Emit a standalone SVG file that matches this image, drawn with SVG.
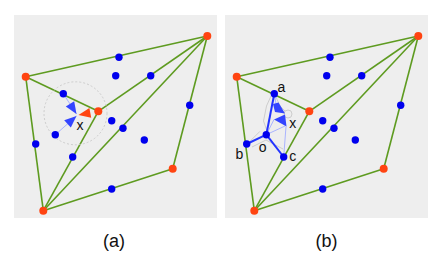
<svg xmlns="http://www.w3.org/2000/svg" width="440" height="269" viewBox="0 0 440 269">
<style>
.bg{fill:#eeeeee}
.e{stroke:#5e9b20;stroke-width:1.6;fill:none}
.bl{fill:#0000ee}
.or{fill:#ff4411}
.lb{stroke:#aab4ff;stroke-width:1;fill:none}
.gr{stroke:#c4c4c4;stroke-width:0.8;fill:none}
.vb{stroke:#2233ff;stroke-width:2;fill:none}
.ar{fill:#3344ff}
.t{font-family:"Liberation Sans",Arial,sans-serif;fill:#111}
</style>
<rect class="bg" x="14" y="15" width="203" height="203"/>
<rect class="bg" x="225" y="15" width="203" height="203"/>
<g id="connectors">
  <g id="edges-a">
    <line class="e" x1="25.7" y1="76.7" x2="207.3" y2="36"/>
    <line class="e" x1="207.3" y1="36" x2="98.3" y2="111.3"/>
    <line class="e" x1="207.3" y1="36" x2="43.3" y2="210.7"/>
    <line class="e" x1="207.3" y1="36" x2="172.7" y2="168.7"/>
    <line class="e" x1="172.7" y1="168.7" x2="43.3" y2="210.7"/>
    <line class="e" x1="25.7" y1="76.7" x2="43.3" y2="210.7"/>
    <line class="e" x1="25.7" y1="76.7" x2="98.3" y2="111.3"/>
    <line class="e" x1="98.3" y1="111.3" x2="43.3" y2="210.7"/>
  </g>
  <g id="edges-b" transform="translate(211,0)">
    <line class="e" x1="25.7" y1="76.7" x2="207.3" y2="36"/>
    <line class="e" x1="207.3" y1="36" x2="98.3" y2="111.3"/>
    <line class="e" x1="207.3" y1="36" x2="43.3" y2="210.7"/>
    <line class="e" x1="207.3" y1="36" x2="172.7" y2="168.7"/>
    <line class="e" x1="172.7" y1="168.7" x2="43.3" y2="210.7"/>
    <line class="e" x1="25.7" y1="76.7" x2="43.3" y2="210.7"/>
    <line class="e" x1="25.7" y1="76.7" x2="98.3" y2="111.3"/>
    <line class="e" x1="98.3" y1="111.3" x2="43.3" y2="210.7"/>
  </g>
  <g id="query-a">
    <circle cx="75.5" cy="113.3" r="31.5" fill="none" stroke="#c8c8c8" stroke-width="0.9" stroke-dasharray="2,2"/>
    <line class="lb" x1="63.3" y1="93.7" x2="76.5" y2="114"/>
    <line class="lb" x1="55.3" y1="134.7" x2="76.5" y2="116"/>
    <polygon class="ar" points="76.5,114 65.8,106.6 74.2,101.2"/>
    <polygon class="ar" points="76.5,116 64.2,120.2 70.8,127.6"/>
    <polygon class="or" points="78.5,115 89.4,107.9 91.2,117.7"/>
  </g>
  <g id="query-b">
    <polyline class="gr" points="271,96 266.5,106 263.5,121 267,131"/>
    <polyline class="gr" points="276,97 280,106 285,111"/>
    <line class="gr" x1="250" y1="141.3" x2="260" y2="131.3"/>
    <polyline class="gr" points="252,147 266,140 283,149"/>
    <circle cx="288" cy="114" r="4" class="gr"/>
    <line class="lb" x1="274.3" y1="93.7" x2="276" y2="104"/>
    <line class="lb" x1="266.3" y1="134.7" x2="274" y2="119.5"/>
    <line class="lb" x1="283.7" y1="157" x2="286" y2="126.5"/>
    <line class="lb" x1="266.3" y1="134.7" x2="285" y2="126"/>
    <line class="vb" x1="266.3" y1="134.7" x2="274.3" y2="93.7"/>
    <line class="vb" x1="266.3" y1="134.7" x2="246.7" y2="144"/>
    <line class="vb" x1="266.3" y1="134.7" x2="283.7" y2="157"/>
    <polygon class="ar" points="273,104 278.5,102.5 285,113.5 275,112"/>
    <polygon class="ar" points="274,119.5 285,114.5 286.5,126.5"/>
  </g>
</g>
<g id="nodes-a">
  <g id="a-o1"><circle class="or" cx="207.3" cy="36" r="4"/></g>
  <g id="a-o2"><circle class="or" cx="25.7" cy="76.7" r="4"/></g>
  <g id="a-o3"><circle class="or" cx="98.3" cy="111.3" r="4"/></g>
  <g id="a-o4"><circle class="or" cx="172.7" cy="168.7" r="4"/></g>
  <g id="a-o5"><circle class="or" cx="43.3" cy="210.7" r="4"/></g>
  <g id="a-p1"><circle class="bl" cx="119" cy="57.3" r="3.7"/></g>
  <g id="a-p2"><circle class="bl" cx="115.7" cy="75.7" r="3.7"/></g>
  <g id="a-p3"><circle class="bl" cx="150.7" cy="75.7" r="3.7"/></g>
  <g id="a-p4"><circle class="bl" cx="63.3" cy="93.7" r="3.7"/></g>
  <g id="a-p5"><circle class="bl" cx="189.7" cy="105.3" r="3.7"/></g>
  <g id="a-p6"><circle class="bl" cx="111.7" cy="120.7" r="3.7"/></g>
  <g id="a-p7"><circle class="bl" cx="123" cy="128.3" r="3.7"/></g>
  <g id="a-p8"><circle class="bl" cx="55.3" cy="134.7" r="3.7"/></g>
  <g id="a-p9"><circle class="bl" cx="144.3" cy="140" r="3.7"/></g>
  <g id="a-p10"><circle class="bl" cx="35.7" cy="144" r="3.7"/></g>
  <g id="a-p11"><circle class="bl" cx="72.7" cy="157" r="3.7"/></g>
  <g id="a-p12"><circle class="bl" cx="111.7" cy="189" r="3.7"/></g>
  <g id="a-x"><text class="t" x="80" y="129.5" font-size="14" text-anchor="middle">x</text></g>
</g>
<g id="nodes-b" transform="translate(211,0)">
  <g id="b-o1"><circle class="or" cx="207.3" cy="36" r="4"/></g>
  <g id="b-o2"><circle class="or" cx="25.7" cy="76.7" r="4"/></g>
  <g id="b-o3"><circle class="or" cx="98.3" cy="111.3" r="4"/></g>
  <g id="b-o4"><circle class="or" cx="172.7" cy="168.7" r="4"/></g>
  <g id="b-o5"><circle class="or" cx="43.3" cy="210.7" r="4"/></g>
  <g id="b-p1"><circle class="bl" cx="119" cy="57.3" r="3.7"/></g>
  <g id="b-p2"><circle class="bl" cx="115.7" cy="75.7" r="3.7"/></g>
  <g id="b-p3"><circle class="bl" cx="150.7" cy="75.7" r="3.7"/></g>
  <g id="b-a"><circle class="bl" cx="63.3" cy="93.7" r="3.7"/><text class="t" x="70.3" y="92" font-size="14" text-anchor="middle">a</text></g>
  <g id="b-p5"><circle class="bl" cx="189.7" cy="105.3" r="3.7"/></g>
  <g id="b-p6"><circle class="bl" cx="111.7" cy="120.7" r="3.7"/></g>
  <g id="b-p7"><circle class="bl" cx="123" cy="128.3" r="3.7"/></g>
  <g id="b-o"><circle class="bl" cx="55.3" cy="134.7" r="3.7"/><text class="t" x="51.7" y="151.5" font-size="14" text-anchor="middle">o</text></g>
  <g id="b-p9"><circle class="bl" cx="144.3" cy="140" r="3.7"/></g>
  <g id="b-b"><circle class="bl" cx="35.7" cy="144" r="3.7"/><text class="t" x="28.3" y="159" font-size="14" text-anchor="middle">b</text></g>
  <g id="b-c"><circle class="bl" cx="72.7" cy="157" r="3.7"/><text class="t" x="81.7" y="161" font-size="14" text-anchor="middle">c</text></g>
  <g id="b-p12"><circle class="bl" cx="111.7" cy="189" r="3.7"/></g>
  <g id="b-x"><text class="t" x="81.7" y="128" font-size="14" text-anchor="middle">x</text></g>
</g>
<text class="t" x="114" y="246.5" font-size="18" text-anchor="middle">(a)</text>
<text class="t" x="326.5" y="246.5" font-size="18" text-anchor="middle">(b)</text>
</svg>
